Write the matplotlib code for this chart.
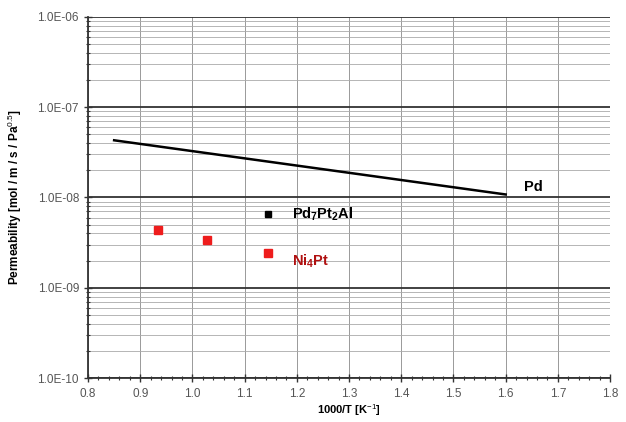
import matplotlib
matplotlib.use("Agg")
import matplotlib.pyplot as plt
from matplotlib.ticker import FixedLocator, FuncFormatter, MultipleLocator, NullFormatter

plt.rcParams['font.family'] = ['Liberation Sans', 'DejaVu Sans']
plt.rcParams['mathtext.fontset'] = 'custom'
plt.rcParams['mathtext.rm'] = 'Liberation Sans'
plt.rcParams['mathtext.bf'] = 'Liberation Sans:bold'

# data
pd_x = [0.85, 1.60]
pd_y = [4.3e-8, 1.08e-8]
pd7_x = [1.145]
pd7_y = [6.5e-9]
ni4_x = [0.935, 1.028, 1.145]
ni4_y = [4.4e-9, 3.4e-9, 2.4e-9]

y_decades = [1e-10, 1e-9, 1e-8, 1e-7, 1e-6]
y_minor = [m * d for d in y_decades[:-1] for m in range(2, 10)]

fig = plt.figure(figsize=(6.26, 4.22), dpi=100)
ax = fig.add_axes([0.1406, 0.104, 0.834, 0.856])

ax.set_yscale('log')
ax.set_xlim(0.8, 1.8)
ax.set_ylim(1e-10, 1e-6)

ax.yaxis.set_major_locator(FixedLocator(y_decades))
ax.yaxis.set_minor_locator(FixedLocator(y_minor))
ax.yaxis.set_minor_formatter(NullFormatter())
ax.yaxis.set_major_formatter(FuncFormatter(lambda v, p: f"{v:.1E}"))
ax.xaxis.set_major_locator(MultipleLocator(0.1))
ax.xaxis.set_minor_locator(MultipleLocator(0.02))
ax.xaxis.set_minor_formatter(NullFormatter())
ax.xaxis.set_major_formatter(FuncFormatter(lambda v, p: f"{v:.1f}"))

ax.grid(which='major', axis='y', color='#333333', lw=1.3)
ax.grid(which='minor', axis='y', color='#aaaaaa', lw=0.6)
ax.grid(which='major', axis='x', color='#999999', lw=0.7)
ax.set_axisbelow(True)

for s in ['top', 'right']:
    ax.spines[s].set_visible(False)
for s in ['left', 'bottom']:
    ax.spines[s].set_color('#333333')
    ax.spines[s].set_linewidth(1.3)

ax.tick_params(which='major', direction='inout', length=6, width=1.0, labelsize=8.5, colors='#333333')
ax.tick_params(which='minor', direction='inout', length=3, width=0.8, colors='#333333')
ax.tick_params(labelcolor='#555555')
ax.tick_params(axis='x', pad=4)

ax.plot(pd_x, pd_y, color='black', lw=1.8)
ax.plot(pd7_x, pd7_y, 's', color='black', ms=5)
ax.plot(ni4_x, ni4_y, 's', color='#ee1c1c', ms=6)

ax.text(1.635, 1.3e-8, 'Pd', fontsize=10.5, fontweight='bold', va='center', ha='left')
ax.text(1.19, 6.5e-9, r'Pd$_\mathbf{7}$Pt$_\mathbf{2}$Al', fontsize=10.5, fontweight='bold', va='center', ha='left')
ax.text(1.19, 1.95e-9, r'Ni$_\mathbf{4}$Pt', fontsize=10.5, fontweight='bold', va='center', ha='left', color='#b01010')

ax.set_xlabel('1000/T [K$^{-1}$]', fontsize=8, fontweight='bold', labelpad=2)
ax.set_ylabel('Permeability [mol / m / s / Pa$^{0.5}$]', fontsize=8.5, fontweight='bold', labelpad=10)

fig.savefig('out.png', dpi=100)
